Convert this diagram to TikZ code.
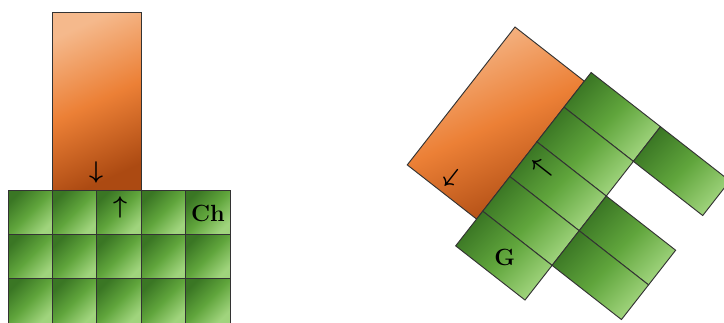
\documentclass[tikz,border=0pt]{standalone}
\usepackage{tikz}
\definecolor{grDark}{RGB}{58,118,36}
\definecolor{grMid}{RGB}{96,165,60}
\definecolor{grLight}{RGB}{160,212,125}
\definecolor{orLight}{RGB}{245,185,140}
\definecolor{orMid}{RGB}{236,128,54}
\definecolor{orDark}{RGB}{172,74,18}
\begin{document}
\begin{tikzpicture}[
		x=0.03cm, y=0.03cm,
		cell/.style={draw=black!80, line width=0.8pt, top color=grDark, bottom color=grLight, middle color=grMid, shading angle=45},
		slab/.style={draw=black!80, line width=0.8pt, top color=orLight, bottom color=orDark, middle color=orMid, shading angle=25},
		arr/.style={font=\fontsize{22}{26}\selectfont\boldmath, inner sep=0pt},
		lbl/.style={font=\fontsize{20}{24}\selectfont\bfseries, inner sep=0pt}
		]
		
		\useasboundingbox (0,0) rectangle (724,-322);
		
		% Left: slab standing on the grid
		\draw[slab] ({8+44.4},-12) rectangle ({8+3*44.4},-190);
		\foreach \i in {0,...,4}
		\foreach \j in {0,1,2}
		\draw[cell] ({8+44.4*\i},{-190-44.4*\j}) rectangle ++(44.4,-44.4);
		
		\node[arr] (dnL) at (96,-172) {$\downarrow$};
		\node[arr] (upL) at (120,-207) {$\uparrow$};
		\node[lbl] (ch) at (208,-213) {Ch};
		
		% Right: tilted slab with strips
		\begin{scope}[shift={(515,-27)}, rotate=-38]
			\draw[slab] (0,0) rectangle (88,-175);
			\foreach \c/\r in {0/0,0/1,0/2,0/3,0/4,1/0,1/2,1/3}
			\draw[cell] ({88+88*\c},{11-44*\r}) rectangle ++(88,-44);
			
			\node[arr, rotate=-38] (dnR) at (43,-158) {$\downarrow$};
			\node[arr, rotate=-38] (lfR) at (108,-96) {$\leftarrow$};
			\node[lbl] (g) at (134,-188) {G};
		\end{scope}
		
	\end{tikzpicture}
\end{document}
